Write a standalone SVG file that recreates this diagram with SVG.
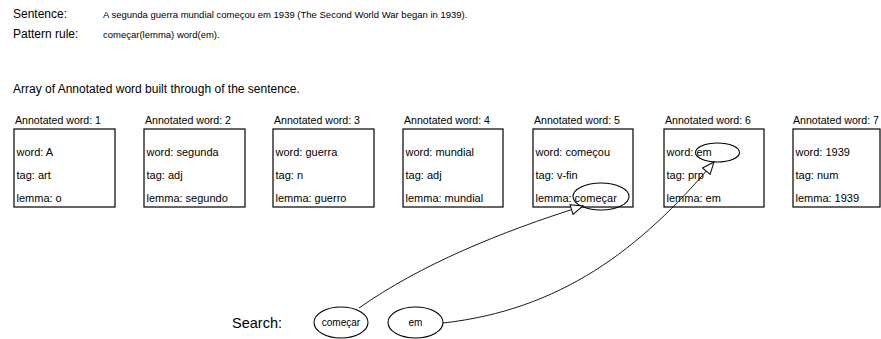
<svg xmlns="http://www.w3.org/2000/svg" width="881" height="339" viewBox="0 0 881 339">
<style>
text{font-family:"Liberation Sans",Arial,sans-serif;fill:#000}
.h{font-size:12px}
.s{font-size:9.5px}
.l{font-size:11px}
.t{font-size:10.6px}
.e{font-size:10px}
.box{fill:#fff;stroke:#000;stroke-width:1.2}
.ell{fill:none;stroke:#000;stroke-width:1.1}
.sell{fill:#fff;stroke:#000;stroke-width:1.1}
.conn{fill:none;stroke:#000;stroke-width:0.9}
</style>
<defs>
<marker id="tri" viewBox="0 0 14 12" refX="13" refY="6" markerWidth="14" markerHeight="12" markerUnits="userSpaceOnUse" orient="auto">
<path d="M1 1 L13 6 L1 11 Z" fill="#fff" stroke="#000" stroke-width="1"/>
</marker>
</defs>
<g id="header">
<text class="h" x="13" y="18">Sentence:</text>
<text class="s" x="103" y="18">A segunda guerra mundial começou em 1939 (The Second World War began in 1939).</text>
<text class="h" x="13" y="38">Pattern rule:</text>
<text class="s" x="103" y="38">começar(lemma) word(em).</text>
<text class="h" x="13" y="93">Array of Annotated word built through of the sentence.</text>
</g>
<g id="w1">
<text class="t" x="15" y="124">Annotated word: 1</text>
<rect class="box" x="14" y="129" width="101" height="78"/>
<text class="l" x="16.5" y="156">word: A</text>
<text class="l" x="16.5" y="179">tag: art</text>
<text class="l" x="16.5" y="202">lemma: o</text>
</g>
<g id="w2">
<text class="t" x="145" y="124">Annotated word: 2</text>
<rect class="box" x="144" y="129" width="101" height="78"/>
<text class="l" x="146.5" y="156">word: segunda</text>
<text class="l" x="146.5" y="179">tag: adj</text>
<text class="l" x="146.5" y="202">lemma: segundo</text>
</g>
<g id="w3">
<text class="t" x="274" y="124">Annotated word: 3</text>
<rect class="box" x="273" y="129" width="101" height="78"/>
<text class="l" x="275.5" y="156">word: guerra</text>
<text class="l" x="275.5" y="179">tag: n</text>
<text class="l" x="275.5" y="202">lemma: guerro</text>
</g>
<g id="w4">
<text class="t" x="404" y="124">Annotated word: 4</text>
<rect class="box" x="403" y="129" width="100" height="78"/>
<text class="l" x="405.5" y="156">word: mundial</text>
<text class="l" x="405.5" y="179">tag: adj</text>
<text class="l" x="405.5" y="202">lemma: mundial</text>
</g>
<g id="w5">
<text class="t" x="534" y="124">Annotated word: 5</text>
<rect class="box" x="533" y="129" width="100" height="78"/>
<text class="l" x="535.5" y="156">word: começou</text>
<text class="l" x="535.5" y="179">tag: v-fin</text>
<text class="l" x="535.5" y="202">lemma: começar</text>
<ellipse class="ell" cx="601" cy="196.5" rx="28" ry="13.5"/>
</g>
<g id="w6">
<text class="t" x="665" y="124">Annotated word: 6</text>
<rect class="box" x="664" y="129" width="100" height="78"/>
<text class="l" x="666.5" y="156">word: em</text>
<text class="l" x="666.5" y="179">tag: prp</text>
<text class="l" x="666.5" y="202">lemma: em</text>
<ellipse class="ell" cx="717.5" cy="152.5" rx="22" ry="9.5"/>
</g>
<g id="w7">
<text class="t" x="793" y="124">Annotated word: 7</text>
<rect class="box" x="793" y="129" width="87" height="78"/>
<text class="l" x="795.5" y="156">word: 1939</text>
<text class="l" x="795.5" y="179">tag: num</text>
<text class="l" x="795.5" y="202">lemma: 1939</text>
</g>
<g id="search">
<text x="232" y="328" style="font-size:14.5px">Search:</text>
</g>
<g id="s1">
<ellipse class="sell" cx="341" cy="322.5" rx="27" ry="15.5"/>
<text class="e" x="341" y="326" text-anchor="middle">começar</text>
</g>
<g id="s2">
<ellipse class="sell" cx="415.5" cy="322.5" rx="27.5" ry="15.5"/>
<text class="e" x="415.5" y="326" text-anchor="middle">em</text>
</g>
<g id="connectors">
<path class="conn" d="M359 308 C420 265 500 232 583 206" marker-end="url(#tri)"/>
<path class="conn" d="M443 323 C560 310 640 250 714 162" marker-end="url(#tri)"/>
</g>
</svg>
